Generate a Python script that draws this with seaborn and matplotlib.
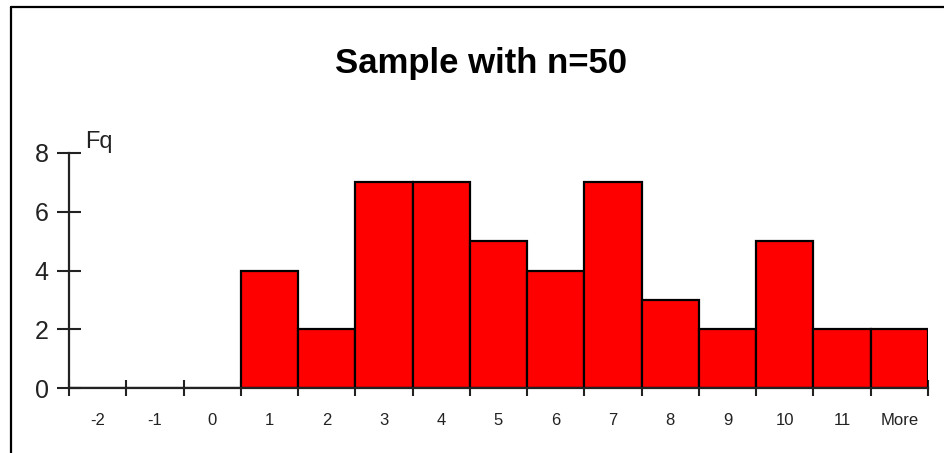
import matplotlib
matplotlib.use("Agg")
import matplotlib.pyplot as plt
from matplotlib.lines import Line2D
import numpy as np
import pandas as pd
import seaborn as sns

# Histogram bins and their frequencies (n = 50)
bins = ["-2", "-1", "0", "1", "2", "3", "4", "5", "6", "7", "8", "9", "10", "11", "More"]
freq = [0, 0, 0, 4, 2, 7, 7, 5, 4, 7, 3, 2, 5, 2, 2]
y_ticks = [0, 2, 4, 6, 8]

df = pd.DataFrame({"bin": bins, "freq": freq})

sns.set_theme(style="white")
plt.rcParams["font.family"] = ["Liberation Sans", "DejaVu Sans"]

fig = plt.figure(figsize=(9.45, 4.53), dpi=100)
ax = fig.add_axes([69 / 945, 65 / 453, (928 - 69) / 945, (388 - 153) / 453])

sns.barplot(data=df, x="bin", y="freq", order=bins, color="#ff0000",
            saturation=1, width=1.0, edgecolor="black", linewidth=1.6, ax=ax)

ax.set_xlim(-0.5, len(bins) - 0.5)
ax.set_ylim(0, 8)
ax.set_xlabel("")
ax.set_ylabel("")

# Labels centred in each bin, tick marks on the bin edges
ax.set_xticks(np.arange(len(bins)))
ax.set_xticklabels(bins, fontsize=12, color="#222222")
ax.tick_params(axis="x", which="major", length=0, pad=18)
ax.set_xticks(np.arange(len(bins) + 1) - 0.5, minor=True)
ax.tick_params(axis="x", which="minor", direction="inout", length=12,
               width=1.5, color="#222222", bottom=True)

ax.set_yticks(y_ticks)
ax.set_yticklabels([str(v) for v in y_ticks], fontsize=18, color="#222222")
ax.tick_params(axis="y", which="major", direction="inout", length=17,
               width=1.5, color="#222222", left=True, pad=6)

for side in ("top", "right"):
    ax.spines[side].set_visible(False)
for side in ("left", "bottom"):
    ax.spines[side].set_color("#222222")
    ax.spines[side].set_linewidth(1.6)

ax.text(-0.22, 8.0, "Fq", fontsize=17, color="#222222", ha="left", va="bottom")

fig.text(481 / 945, 1 - 63 / 453, "Sample with n=50", fontsize=25,
         fontweight="bold", ha="center", va="center", color="black")

# Frame lines along the left and top edges
fig.add_artist(Line2D([11 / 945, 11 / 945], [0, 1 - 7 / 453],
                      transform=fig.transFigure, color="black", lw=1.6))
fig.add_artist(Line2D([11 / 945, 1], [1 - 7 / 453, 1 - 7 / 453],
                      transform=fig.transFigure, color="black", lw=1.6))

fig.savefig("out.png", dpi=100, facecolor="white")
